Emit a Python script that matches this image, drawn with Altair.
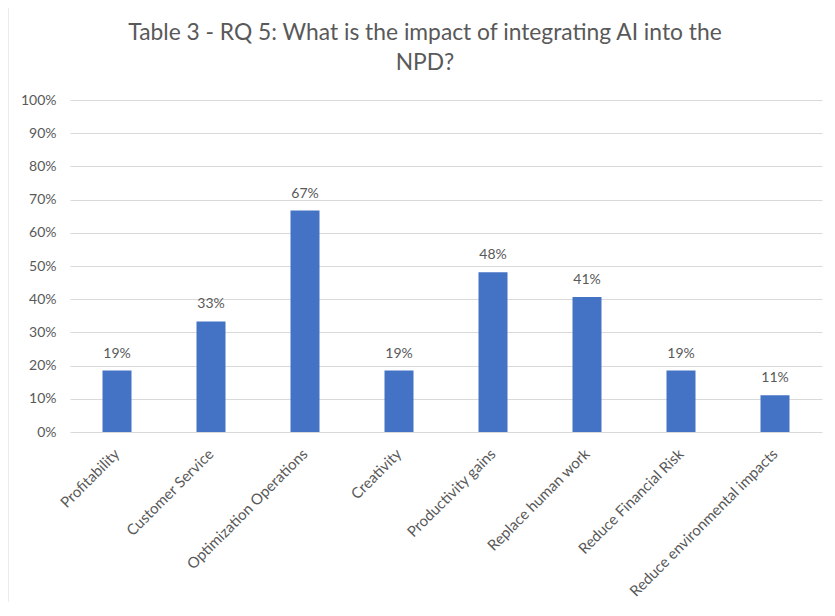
import altair as alt
import pandas as pd

categories = ["Profitability", "Customer Service", "Optimization Operations", "Creativity",
              "Productivity gains", "Replace human work", "Reduce Financial Risk",
              "Reduce environmental impacts"]
values = [0.185, 0.333, 0.667, 0.185, 0.481, 0.407, 0.185, 0.111]
y_ticks = [0, 0.1, 0.2, 0.3, 0.4, 0.5, 0.6, 0.7, 0.8, 0.9, 1.0]
title_lines = ["Table 3 - RQ 5: What is the impact of integrating AI into the", "NPD?"]

df = pd.DataFrame({"category": categories, "value": values})

FONT = "Lato"
TXT = "#595959"
W, H = 752, 332

base = alt.Chart(df)
one = base.transform_filter(alt.datum.category == "Profitability")

frame = one.mark_rect(fill="white", fillOpacity=0, stroke="#D9D9D9", strokeWidth=1, clip=False).encode(
    x=alt.value(-62), x2=alt.value(W + 30), y=alt.value(-95), y2=alt.value(H + 190)
)

title1 = one.mark_text(text=title_lines[0], font=FONT, fontSize=22.8, color=TXT,
                       baseline="middle", align="center").encode(
    x=alt.value(355), y=alt.value(-67))
title2 = one.mark_text(text=title_lines[1], font=FONT, fontSize=22.8, color=TXT,
                       baseline="middle", align="center").encode(
    x=alt.value(355), y=alt.value(-37))

x_axis = alt.Axis(labelAngle=-45, labelAlign="right", labelBaseline="middle",
                  labelFont=FONT, labelFontSize=15, labelColor=TXT,
                  labelPadding=19, labelOverlap=False, labelLimit=300,
                  ticks=False, domain=False, grid=False)
y_axis = alt.Axis(values=y_ticks, format=".0%", labelFont=FONT, labelFontSize=14,
                  labelColor=TXT, labelPadding=14, labelOverlap=False,
                  ticks=False, domain=False,
                  grid=True, gridColor="#D9D9D9", gridWidth=1)

x_enc = alt.X("category:N", sort=categories, title=None,
              scale=alt.Scale(paddingInner=0, paddingOuter=0), axis=x_axis)
y_enc = alt.Y("value:Q", title=None, scale=alt.Scale(domain=[0, 1], nice=False), axis=y_axis)

bars = base.mark_bar(color="#4472C4", size=29).encode(x=x_enc, y=y_enc)

labels = base.mark_text(font=FONT, fontSize=14, color=TXT, dy=-17).encode(
    x=x_enc, y=y_enc,
    text=alt.Text("value:Q", format=".0%"),
)

chart = alt.layer(frame, title1, title2, bars, labels).properties(
    width=W, height=H,
    autosize=alt.AutoSizeParams(type="none"),
    padding={"left": 62, "top": 92, "right": 5, "bottom": 170},
).configure_view(stroke=None)

chart.save("out.html", embed_options={"renderer": "svg", "actions": False})
